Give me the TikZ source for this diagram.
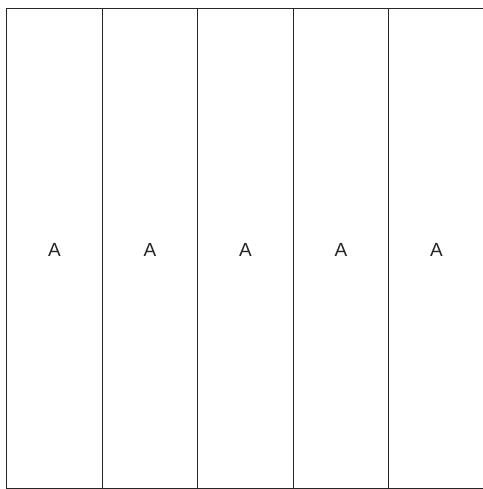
\documentclass[tikz,border=0pt]{standalone}
\usepackage{fontspec}
\setmainfont{Liberation Sans}
\begin{document}
\begin{tikzpicture}[x=1pt,y=-1pt,
  strip/.style={draw=black!85,line width=0.8pt},
  lbl/.style={font=\fontsize{19}{19}\selectfont,text=black!85}]
\useasboundingbox (0,0) rectangle (482,489);
\fill[white] (0,0) rectangle (482,489);
\foreach \i/\xa/\xb in {1/6/102,2/102/197,3/197/293,4/293/388,5/388/484}{
  \node[strip,minimum width=\xb-\xa,minimum height=480,inner sep=0pt,anchor=north west] (s\i) at (\xa,8) {};
  \node[lbl] (t\i) at ([yshift=-2pt]s\i.center) {A};
}
\end{tikzpicture}
\end{document}
